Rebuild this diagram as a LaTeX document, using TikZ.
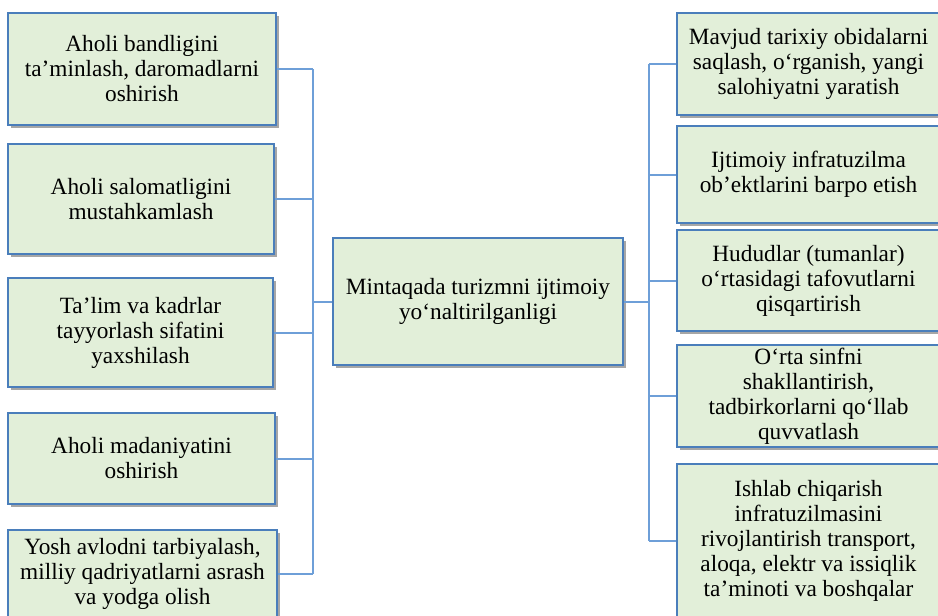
\documentclass[tikz,border=0pt]{standalone}
\usepackage{fontspec}
\setmainfont{Liberation Serif}
\usetikzlibrary{shadows}
\definecolor{boxfill}{HTML}{E2EFD9}
\definecolor{boxline}{HTML}{4A7EBB}
\definecolor{connline}{HTML}{6E9FD8}
\begin{document}
\begin{tikzpicture}[x=1pt,y=-1pt,
  box/.style={draw=boxline, line width=2pt, fill=boxfill, inner sep=0pt, align=center,
    font=\fontsize{23.3}{25}\selectfont,
    drop shadow={shadow xshift=2.5pt, shadow yshift=-2.5pt, opacity=0.35, fill=black}},
  conn/.style={draw=connline, line width=2pt}]
\useasboundingbox (0,0) rectangle (938,616);
\fill[white] (0,0) rectangle (938,616);
% left column
\node[box, minimum width=268pt, minimum height=112pt] (L1) at (142,69) {Aholi bandligini\\ta’minlash, daromadlarni\\oshirish};
\node[box, minimum width=266pt, minimum height=110pt] (L2) at (141,199) {Aholi salomatligini\\mustahkamlash};
\node[box, minimum width=265pt, minimum height=109pt] (L3) at (140.5,332.5) {Ta’lim va kadrlar\\tayyorlash sifatini\\yaxshilash};
\node[box, minimum width=267pt, minimum height=91pt] (L4) at (141.5,458.5) {Aholi madaniyatini\\oshirish};
\node[box, minimum width=269pt, minimum height=88pt] (L5) at (142.5,574) {Yosh avlodni tarbiyalash,\\milliy qadriyatlarni asrash\\va yodga olish};
% centre
\node[box, minimum width=290pt, minimum height=127pt] (C) at (478,301.5) {Mintaqada turizmni ijtimoiy\\yo‘naltirilganligi};
% right column
\node[box, minimum width=263pt, minimum height=102pt] (R1) at (808.5,64) {Mavjud tarixiy obidalarni\\saqlash, o‘rganish, yangi\\salohiyatni yaratish};
\node[box, minimum width=263pt, minimum height=97pt] (R2) at (808.5,174.5) {Ijtimoiy infratuzilma\\ob’ektlarini barpo etish};
\node[box, minimum width=263pt, minimum height=101pt] (R3) at (808.5,280.5) {Hududlar (tumanlar)\\o‘rtasidagi tafovutlarni\\qisqartirish};
\node[box, minimum width=263pt, minimum height=102pt] (R4) at (808.5,396) {O‘rta sinfni\\shakllantirish,\\tadbirkorlarni qo‘llab\\quvvatlash};
\node[box, minimum width=263pt, minimum height=154pt] (R5) at (808.5,541) {Ishlab chiqarish\\infratuzilmasini\\rivojlantirish transport,\\aloqa, elektr va issiqlik\\ta’minoti va boshqalar};
% buses
\coordinate (lb) at (313,0);
\coordinate (rb) at (649,0);
\foreach \n in {L1,L2,L3,L4,L5} \draw[conn] (\n.east) -- (\n.east -| lb);
\draw[conn] (L1.east -| lb) -- (L5.east -| lb);
\draw[conn] (C.west) -- (C.west -| lb);
\draw[conn] (C.east) -- (C.east -| rb);
\foreach \n in {R1,R2,R3,R4,R5} \draw[conn] (\n.west) -- (\n.west -| rb);
\draw[conn] (R1.west -| rb) -- (R5.west -| rb);
\end{tikzpicture}
\end{document}
